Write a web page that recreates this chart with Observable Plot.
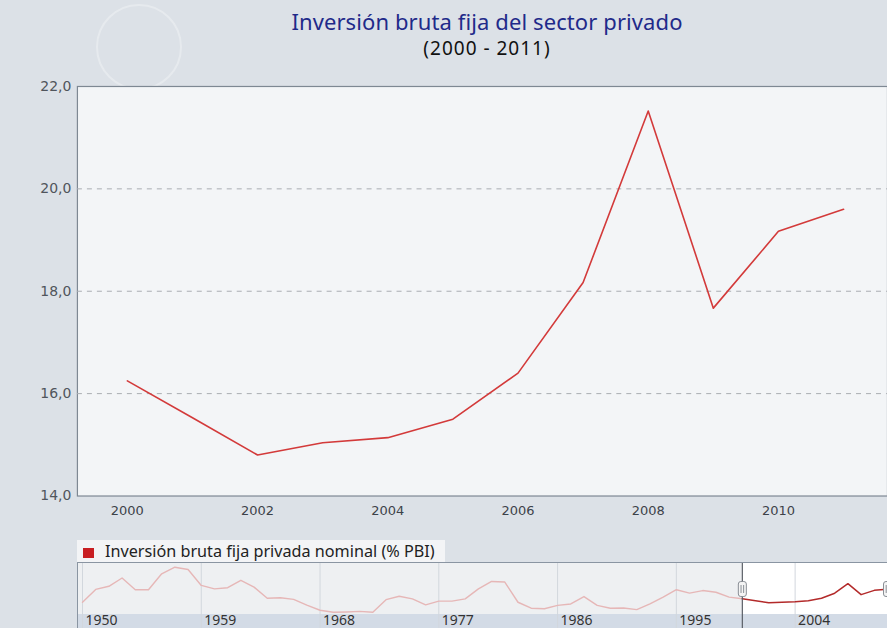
<!DOCTYPE html>
<html>
<head>
<meta charset="utf-8">
<script src="https://cdn.jsdelivr.net/npm/d3@7"></script>
<script src="https://cdn.jsdelivr.net/npm/@observablehq/plot@0.6"></script>
<style>
  html, body { margin: 0; padding: 0; overflow: hidden; }
  body { width: 887px; height: 628px; position: relative; background: #dce1e7; font-family: "DejaVu Sans", sans-serif; }
  #logo { position: absolute; left: 96px; top: 4px; width: 86px; height: 86px; border-radius: 50%;
          border: 2px solid rgba(255,255,255,0.3); box-sizing: border-box; }
  #title { position: absolute; left: 87px; width: 800px; top: 6px; text-align: center;
           font-family: "Noto Sans", sans-serif; font-size: 22px; color: #1f2a8a; letter-spacing: 0.1px; }
  #subtitle { position: absolute; left: 87px; width: 800px; top: 35px; text-align: center;
              font-family: "Noto Sans", sans-serif; font-size: 19px; color: #111; letter-spacing: 1px; }
  #main { position: absolute; left: 0; top: 66px; width: 887px; height: 464px; overflow: hidden; }
  #legend { position: absolute; left: 77px; top: 540px; width: 368px; height: 22px; background: #f3f4f6;
            font-family: "Noto Sans", sans-serif; font-size: 16.2px; color: #222; line-height: 22px; white-space: nowrap; }
  #legend .sw { display: inline-block; width: 11px; height: 10px; background: #c81e22; margin: 0 11px 0 6px; vertical-align: -1px; }
  #nav { position: absolute; left: 77px; top: 562px; width: 809px; height: 65px; overflow: hidden;
         border-top: 1px solid #8a95a2; border-left: 1px solid #8a95a2;
         background: linear-gradient(to bottom, #eef0f2 51px, #d3dbe6 51px); }
</style>
</head>
<body>
<div id="logo"></div>
<div id="title">Inversión bruta fija del sector privado</div>
<div id="subtitle">(2000 - 2011)</div>
<div id="main"></div>
<div id="legend"><span class="sw"></span>Inversión bruta fija privada nominal (% PBI)</div>
<div id="nav"></div>
<script>
// ---- data ----
const years = [2000, 2001, 2002, 2003, 2004, 2005, 2006, 2007, 2008, 2009, 2010, 2011];
const values = [16.25, 15.53, 14.80, 15.04, 15.14, 15.50, 16.40, 18.17, 21.52, 17.67, 19.17, 19.60];
const yTicks = [14, 16, 18, 20, 22];
const xTicks = [2000, 2002, 2004, 2006, 2008, 2010];

const histYears = [1950, 1951, 1952, 1953, 1954, 1955, 1956, 1957, 1958, 1959,
                   1960, 1961, 1962, 1963, 1964, 1965, 1966, 1967, 1968, 1969,
                   1970, 1971, 1972, 1973, 1974, 1975, 1976, 1977, 1978, 1979,
                   1980, 1981, 1982, 1983, 1984, 1985, 1986, 1987, 1988, 1989,
                   1990, 1991, 1992, 1993, 1994, 1995, 1996, 1997, 1998, 1999];
const histValues = [15.0, 19.5, 20.6, 23.5, 19.4, 19.4, 25.0, 27.3, 26.5, 20.9,
                    19.7, 20.1, 22.7, 20.3, 16.4, 16.6, 16.0, 14.0, 12.2, 11.5,
                    11.6, 11.8, 11.5, 15.9, 17.1, 16.2, 14.1, 15.4, 15.4, 16.2,
                    19.7, 22.3, 22.1, 15.0, 12.9, 12.7, 13.9, 14.4, 17.0, 13.9,
                    12.9, 13.0, 12.4, 14.4, 16.8, 19.4, 18.2, 19.1, 18.5, 16.8];
const navTicks = [1950, 1959, 1968, 1977, 1986, 1995, 2004];
const selection = [2000, 2011];
const navDomain = [1950, 2011];
const navYDomain = [10.7, 28.6];
const yDomain = [14, 22];

// ---- tables ----
const main = years.map((y, i) => ({year: y, value: values[i]}));
const hist = histYears.map((y, i) => ({year: y, value: histValues[i]})).concat([main[0]]);
const grid = yTicks.filter(t => t > yDomain[0] && t < yDomain[1]);
const fmt = d => d.toFixed(1).replace(".", ",");

// ---- main chart ----
const chart = Plot.plot({
  width: 888, height: 464,
  marginTop: 20, marginBottom: 34, marginLeft: 77, marginRight: 0,
  style: {background: "transparent", fontFamily: "DejaVu Sans, sans-serif", fontSize: "13px"},
  x: {domain: [years[0], years[years.length - 1]], insetLeft: 50, insetRight: 44},
  y: {domain: yDomain},
  marks: [
    Plot.frame({fill: "#f3f5f7", stroke: "#7e8893", strokeWidth: 1.2}),
    Plot.ruleY(grid, {stroke: "#a9adb2", strokeDasharray: "5,5", strokeWidth: 1}),
    Plot.axisY({ticks: yTicks, tickSize: 0, tickPadding: 6, tickFormat: fmt, fill: "#50555c", fontSize: 14, label: null}),
    Plot.axisX({ticks: xTicks, tickSize: 0, tickPadding: 10, tickFormat: d => String(d), fill: "#3d4249", label: null}),
    Plot.line(main, {x: "year", y: "value", stroke: "#d33a3a", strokeWidth: 1.6})
  ]
});
document.getElementById("main").appendChild(chart);

// ---- navigator ----
const handle = {
  draw(c) {
    const w = 4, h = 7.5, r = 2.5;
    c.moveTo(-w + r, -h);
    c.lineTo(w - r, -h); c.arcTo(w, -h, w, -h + r, r);
    c.lineTo(w, h - r); c.arcTo(w, h, w - r, h, r);
    c.lineTo(-w + r, h); c.arcTo(-w, h, -w, h - r, r);
    c.lineTo(-w, -h + r); c.arcTo(-w, -h, -w + r, -h, r);
    c.closePath();
    c.moveTo(-1.3, -4); c.lineTo(-1.3, 4);
    c.moveTo(1.3, -4); c.lineTo(1.3, 4);
  }
};
const nav = Plot.plot({
  width: 809, height: 65,
  marginTop: 0, marginBottom: 14, marginLeft: 0, marginRight: 0,
  style: {background: "transparent", fontFamily: "Noto Sans, sans-serif", fontSize: "14px"},
  x: {domain: navDomain, insetLeft: 4},
  y: {domain: navYDomain, axis: null},
  marks: [
    Plot.rect([selection], {x1: d => d[0], x2: d => d[1], fill: "white"}),
    Plot.ruleX(navTicks, {stroke: "#d2d7dd", insetBottom: -14}),
    Plot.line(hist, {x: "year", y: "value", stroke: "#e6b7b7", strokeWidth: 1.4}),
    Plot.line(main, {x: "year", y: "value", stroke: "#b32a2a", strokeWidth: 1.5}),
    Plot.ruleX([selection[0]], {stroke: "#5a5f66", strokeWidth: 1.2, insetBottom: -14}),
    Plot.axisX({ticks: navTicks, tickSize: 0, tickPadding: 1, textAnchor: "start", dx: 3,
                tickFormat: d => String(d), fill: "#333", label: null}),
    Plot.dot(selection, {x: d => d, frameAnchor: "middle", symbol: handle, fill: "#f4f4f4", stroke: "#8a8f96", strokeWidth: 1})
  ]
});
document.getElementById("nav").appendChild(nav);
</script>
</body>
</html>
